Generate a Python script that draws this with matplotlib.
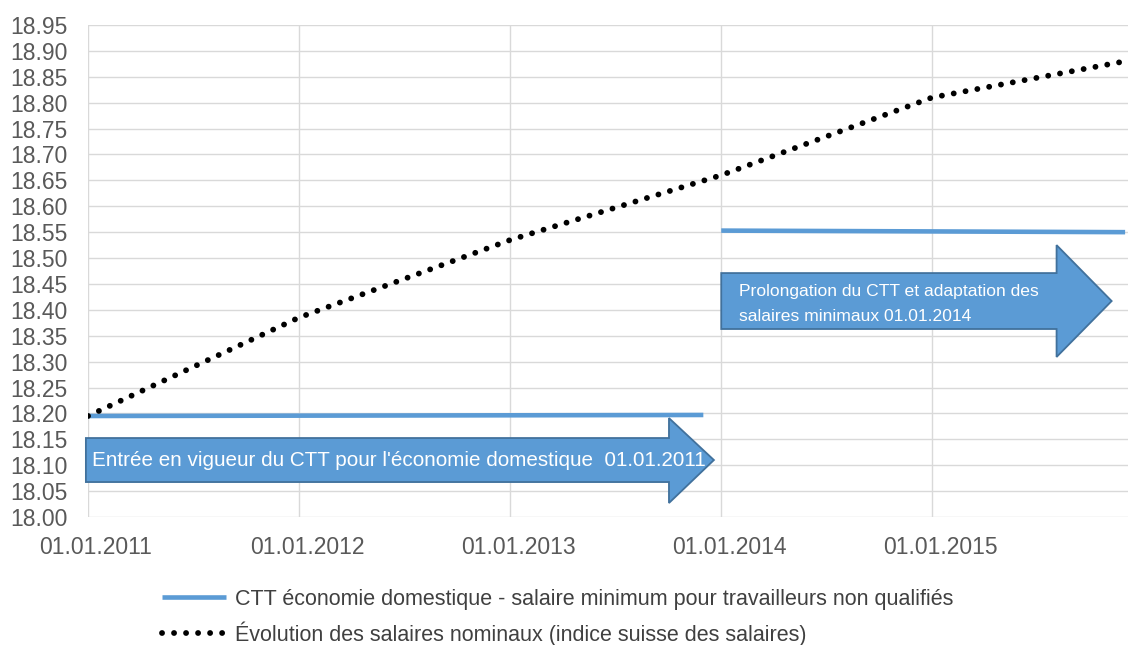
import matplotlib
matplotlib.use("Agg")
import matplotlib.pyplot as plt
import matplotlib.dates as mdates
import matplotlib.transforms as mtransforms
from matplotlib.patches import Polygon
import numpy as np
import datetime as dt

plt.rcParams['font.family'] = ['Liberation Sans', 'DejaVu Sans']

# ---- data ----
ctt1_dates = ["2011-01-01", "2013-12-01"]
ctt1_values = [18.195, 18.197]
ctt2_dates = ["2014-01-01", "2015-12-01"]
ctt2_values = [18.553, 18.550]
wage_dates = ["2011-01-01", "2012-01-01", "2013-01-01", "2014-01-01", "2015-01-01", "2015-12-01"]
wage_values = [18.195, 18.385, 18.535, 18.660, 18.810, 18.880]
tick_dates = ["2011-01-01", "2012-01-01", "2013-01-01", "2014-01-01", "2015-01-01"]
tick_labels = ["01.01.2011", "01.01.2012", "01.01.2013", "01.01.2014", "01.01.2015"]
legend_labels = ["CTT économie domestique - salaire minimum pour travailleurs non qualifiés",
                 "Évolution des salaires nominaux (indice suisse des salaires)"]
arrow1_text = "Entrée en vigueur du CTT pour l'économie domestique  01.01.2011"
arrow2_text = "Prolongation du CTT et adaptation des\nsalaires minimaux 01.01.2014"

def d(s):
    return mdates.date2num(dt.datetime.strptime(s, "%Y-%m-%d"))

BLUE = "#5B9BD5"
EDGE = "#41719C"

fig = plt.figure(figsize=(11.28, 6.45), dpi=100)
ax = fig.add_axes([88/1128, 1-517/645, 1-88/1128, (517-25)/645])

x_start = d("2011-01-01")
x_end = d("2015-12-06")
ax.set_xlim(x_start, x_end)
ax.set_ylim(18.0, 18.95)
ax.set_yticks(np.arange(18.0, 18.951, 0.05))
ax.yaxis.set_major_formatter(matplotlib.ticker.FormatStrFormatter('%.2f'))
ax.set_xticks([d(t) for t in tick_dates])
ax.set_xticklabels(tick_labels)
ax.tick_params(axis='both', length=0, labelsize=16.5, colors="#595959")
ax.tick_params(axis='x', pad=14)
ax.tick_params(axis='y', pad=14.5)
offset = mtransforms.ScaledTranslation(8/100, 0, fig.dpi_scale_trans)
for lab in ax.get_xticklabels():
    lab.set_transform(lab.get_transform() + offset)
for s in ax.spines.values():
    s.set_visible(False)
ax.grid(True, color="#D9D9D9", lw=1.0)
ax.set_axisbelow(True)

l1, = ax.plot([d(x) for x in ctt1_dates], ctt1_values, color=BLUE, lw=3.3, solid_capstyle='butt', zorder=3)
ax.plot([d(x) for x in ctt2_dates], ctt2_values, color=BLUE, lw=3.3, solid_capstyle='butt', zorder=3)
l2, = ax.plot([d(x) for x in wage_dates], wage_values, color="black", lw=4.2,
              linestyle=(0, (0.01, 2.05)), dash_capstyle='round', zorder=4)

def arrow(x0, x1, x2, yb0, yb1, yh0, yh1):
    ym = (yb0 + yb1) / 2
    pts = [(x0, yb0), (x1, yb0), (x1, yh0), (x2, ym), (x1, yh1), (x1, yb1), (x0, yb1)]
    p = Polygon(pts, closed=True, facecolor=BLUE, edgecolor=EDGE, lw=1.3, zorder=5, clip_on=False)
    ax.add_patch(p)

yr = 365.25
a1x0 = x_start - 0.01 * yr
a1x1 = x_start + 2.753 * yr
a1x2 = x_start + 2.966 * yr
arrow(a1x0, a1x1, a1x2, 18.0675, 18.1525, 18.027, 18.191)
ax.text(x_start + 0.02 * yr, 18.11, arrow1_text, color="white", fontsize=14.9,
        va='center', ha='left', zorder=6)

a2x0 = d("2014-01-01")
a2x1 = a2x0 + 1.589 * yr
a2x2 = a2x0 + 1.85 * yr
arrow(a2x0, a2x1, a2x2, 18.363, 18.471, 18.309, 18.525)
ax.text(a2x0 + 0.085 * yr, 18.411, arrow2_text, color="white", fontsize=12.6,
        va='center', ha='left', linespacing=1.8, zorder=6)

fig.legend([l1, l2], legend_labels, loc='upper left', bbox_to_anchor=(153/1128, 1-580/645),
           frameon=False, fontsize=15.5, labelcolor="#404040", handlelength=3.0,
           handletextpad=0.4, labelspacing=0.55, borderaxespad=0)

fig.savefig("out.png", dpi=100)
